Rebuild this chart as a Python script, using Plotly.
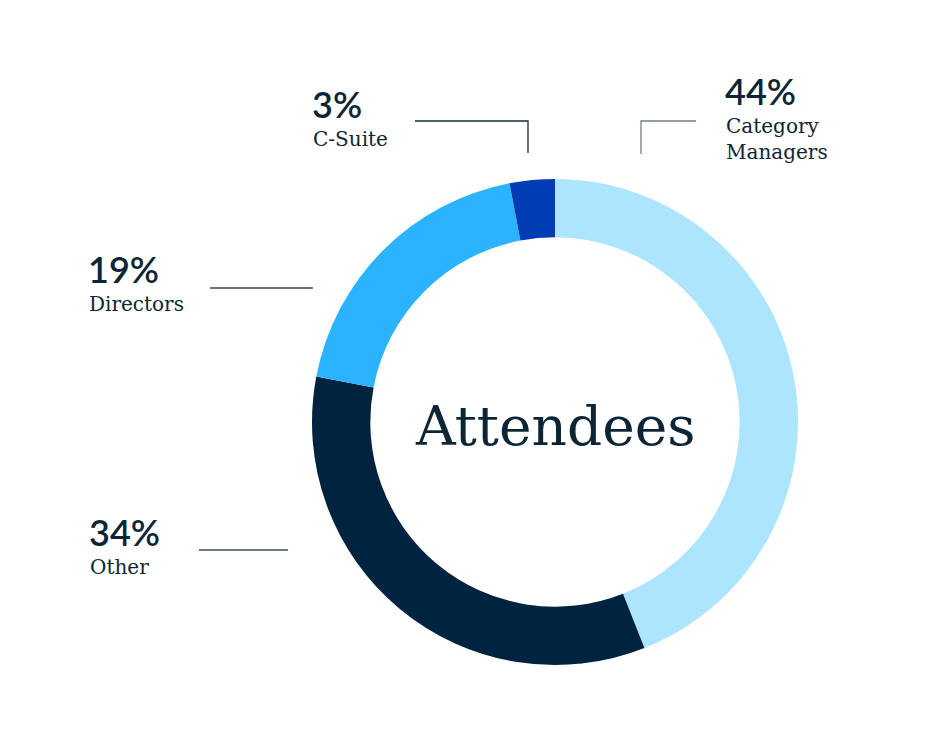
import plotly.graph_objects as go

categories = ["Category Managers", "Other", "Directors", "C-Suite"]
values = [44, 34, 19, 3]
colors = ["#ADE4FF", "#002340", "#2BB3FF", "#003DB5"]
pct_labels = ["44%", "34%", "19%", "3%"]
name_labels = ["Category<br>Managers", "Other", "Directors", "C-Suite"]

W, H = 934, 748
OFF = 8  # page body margin
def px(x): return (x - OFF) / W
def py(y): return 1 - (y - OFF) / H

cx, cy, r = 555, 422, 243

fig = go.Figure(go.Pie(
    labels=categories, values=values, sort=False, direction="clockwise",
    rotation=0, hole=0.76, textinfo="none", hoverinfo="label+percent",
    marker=dict(colors=colors, line=dict(width=0)),
    domain=dict(x=[px(cx - r), px(cx + r)], y=[py(cy + r), py(cy - r)]),
    showlegend=False,
))

TXT = "#0B2535"
# label positions (left x, glyph top of pct text)
label_pos = {
    "Category Managers": (726, 80),
    "Other": (90, 521),
    "Directors": (89, 258),
    "C-Suite": (313, 93),
}
annotations = []
for cat, p, n in zip(categories, pct_labels, name_labels):
    x, y = label_pos[cat]
    annotations.append(dict(x=px(x - 3), y=py(y - 13), xref="paper", yref="paper",
                            xanchor="left", yanchor="top", showarrow=False,
                            text=p, font=dict(family="Lato", size=36, color=TXT, weight=600)))
    annotations.append(dict(x=px(x - 2), y=py(y + 32), xref="paper", yref="paper",
                            xanchor="left", yanchor="top", showarrow=False, align="left",
                            text=n, font=dict(family="DejaVu Serif", size=20, color=TXT)))
annotations.append(dict(x=px(cx), y=py(cy + 4), xref="paper", yref="paper",
                        xanchor="center", yanchor="middle", showarrow=False,
                        text="Attendees", font=dict(family="DejaVu Serif", size=55, color=TXT)))

line_col = "#34495A"
shapes = [
    dict(type="path", xref="paper", yref="paper",
         path=f"M {px(415)} {py(121)} L {px(528)} {py(121)} L {px(528)} {py(153)}",
         line=dict(color="#122B3E", width=1.3)),
    dict(type="path", xref="paper", yref="paper",
         path=f"M {px(696)} {py(121)} L {px(641)} {py(121)} L {px(641)} {py(154)}",
         line=dict(color="#6F7F8D", width=1.3)),
    dict(type="line", xref="paper", yref="paper", x0=px(210), x1=px(313), y0=py(288), y1=py(288),
         line=dict(color=line_col, width=1.3)),
    dict(type="line", xref="paper", yref="paper", x0=px(199), x1=px(288), y0=py(550), y1=py(550),
         line=dict(color=line_col, width=1.3)),
]

fig.update_layout(width=W, height=H, margin=dict(l=0, r=0, t=0, b=0),
                  paper_bgcolor="white", plot_bgcolor="white",
                  annotations=annotations, shapes=shapes)
fig.write_html("out.html")
